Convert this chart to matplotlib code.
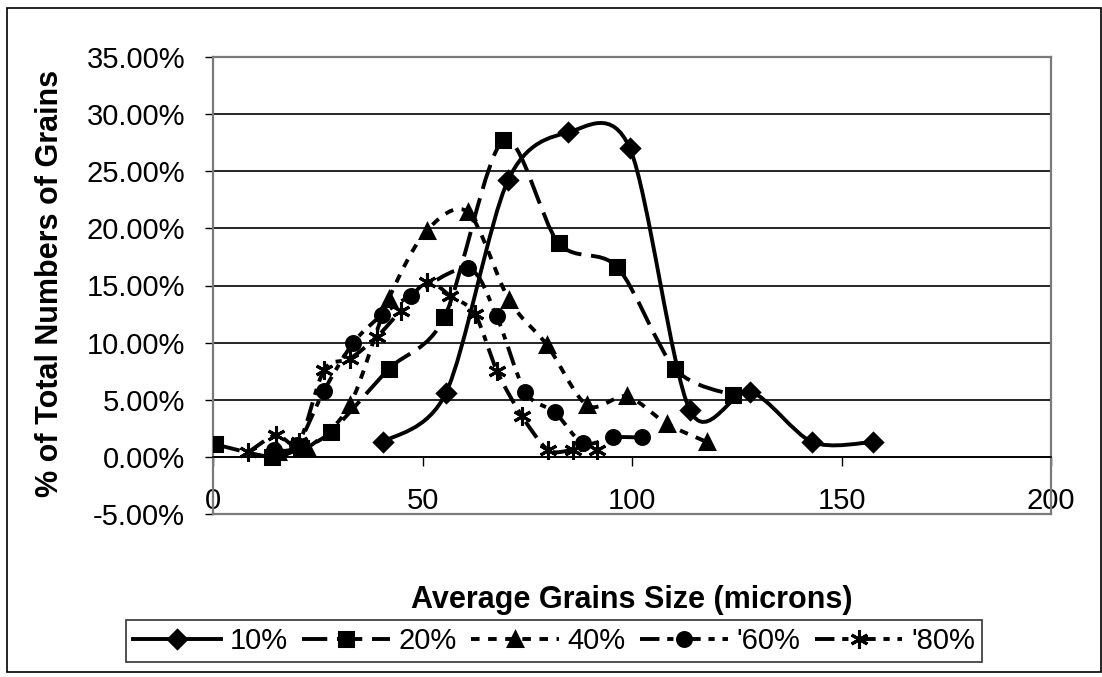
import numpy as np
import matplotlib
matplotlib.use("Agg")
import matplotlib.pyplot as plt
from matplotlib.path import Path
from matplotlib.patches import PathPatch, Rectangle
from matplotlib.lines import Line2D

plt.rcParams['font.family'] = ['Liberation Sans', 'DejaVu Sans']

# grain size (microns) and % of grains for each series
x10 = [40.6, 55.6, 70.4, 84.8, 99.5, 113.8, 128.2, 143.0, 157.5]
y10 = [1.3, 5.6, 24.2, 28.4, 27.0, 4.1, 5.7, 1.3, 1.3]

x20 = [0.5, 14.0, 21.0, 28.2, 42.0, 55.2, 69.3, 82.5, 96.5, 110.3, 124.1]
y20 = [1.1, 0.0, 0.8, 2.2, 7.7, 12.2, 27.7, 18.7, 16.6, 7.7, 5.4]

x40 = [15.5, 22.5, 32.6, 41.9, 51.0, 60.9, 70.7, 79.7, 89.3, 98.8, 108.3, 117.9]
y40 = [0.4, 0.8, 4.5, 13.8, 19.8, 21.4, 13.7, 9.8, 4.5, 5.3, 2.9, 1.3]

x60 = [14.5, 20.0, 26.5, 33.5, 40.3, 47.2, 60.9, 67.7, 74.5, 81.6, 88.3, 95.5, 102.4]
y60 = [0.6, 1.0, 5.8, 10.0, 12.4, 14.1, 16.5, 12.3, 5.7, 3.9, 1.2, 1.7, 1.7]

x80 = [8.4, 15.0, 20.5, 26.5, 32.7, 39.1, 44.8, 51.0, 56.6, 62.5, 67.8, 73.7, 80.0, 86.0, 91.6]
y80 = [0.4, 1.9, 1.3, 7.6, 8.6, 10.5, 12.8, 15.3, 14.1, 12.5, 7.5, 3.6, 0.6, 0.6, 0.6]

labels = ['10%', '20%', '40%', "'60%", "'80%"]
xticks = [0, 50, 100, 150, 200]
yticks = [-5, 0, 5, 10, 15, 20, 25, 30, 35]


def smooth_path(xs, ys, k=0.15):
    # Excel style smoothed line: cardinal spline through the points as cubic Beziers
    pts = np.column_stack([xs, ys])
    n = len(pts)
    verts = [pts[0]]
    codes = [Path.MOVETO]
    for i in range(n - 1):
        p0 = pts[i - 1] if i > 0 else pts[i]
        p1, p2 = pts[i], pts[i + 1]
        p3 = pts[i + 2] if i + 2 < n else pts[i + 1]
        verts += [p1 + (p2 - p0) * k, p2 - (p3 - p1) * k, p2]
        codes += [Path.CURVE4] * 3
    return Path(verts, codes)


fig = plt.figure(figsize=(11.02, 6.77), dpi=100)
ax = fig.add_axes([213 / 1102, 1 - 514 / 677, 838 / 1102, 457 / 677])
ax.set_xlim(0, 200)
ax.set_ylim(-5, 35)

for yv in yticks[1:-1]:
    ax.axhline(yv, color='black', lw=1.2, zorder=1)
ax.axhline(-5, color='#7a7a7a', lw=1.6, clip_on=False, zorder=1)

for s in ['left', 'right', 'top']:
    ax.spines[s].set_color('#7a7a7a')
    ax.spines[s].set_linewidth(1.6)
ax.spines['bottom'].set_position(('data', 0))
ax.spines['bottom'].set_color('black')
ax.spines['bottom'].set_linewidth(1.2)

lw = 2.8
series = [
    (x10, y10, 'D', 9, '-'),
    (x20, y20, 's', 10, (0, (6.5, 2.5))),
    (x40, y40, '^', 10, (0, (2.2, 2.2))),
    (x60, y60, 'o', 10, (0, (5, 2, 1.6, 2))),
    (x80, y80, (6, 2, 0), 13, (0, (5, 2, 1.6, 2))),
]
handles = []
for xs, ys, mk, ms, ls in series:
    patch = PathPatch(smooth_path(xs, ys), facecolor='none', edgecolor='black',
                      lw=lw, linestyle=ls, zorder=3)
    ax.add_patch(patch)
    ax.plot(xs, ys, linestyle='none', marker=mk, ms=ms, color='black',
            mec='black', mew=2.2, zorder=4)
    handles.append(Line2D([], [], color='black', lw=lw, linestyle=ls,
                          marker=mk, ms=ms, mew=2.2))

ax.set_xticks(xticks)
ax.set_xticklabels([str(v) for v in xticks])
ax.set_yticks(yticks)
ax.set_yticklabels([f'{v:.2f}%' for v in yticks])
ax.tick_params(axis='x', direction='out', length=6.5, width=1, pad=15, labelsize=21)
ax.tick_params(axis='y', direction='out', length=6, width=1, pad=14, labelsize=21)

fig.text(50 / 1102, 1 - 283 / 677, '% of Total Numbers of Grains', rotation=90,
         ha='center', va='center', fontsize=22, fontweight='bold')
fig.text(632 / 1102, 1 - 600 / 677, 'Average Grains Size (microns)',
         ha='center', va='center', fontsize=22, fontweight='bold')

leg = fig.legend(handles, labels, loc='center', bbox_to_anchor=(554 / 1102, 1 - 641 / 677),
                 ncol=5, fontsize=21, frameon=True, fancybox=False, edgecolor='black',
                 handlelength=3.0, handletextpad=0.3, columnspacing=0.5, borderpad=0.25,
                 borderaxespad=0)
leg.get_frame().set_linewidth(1.2)

fig.patches.append(Rectangle((7 / 1102, 5 / 677), 1094 / 1102, 664 / 677,
                             transform=fig.transFigure, fill=False, edgecolor='black', lw=1.2))

fig.savefig('out.png', dpi=100)
